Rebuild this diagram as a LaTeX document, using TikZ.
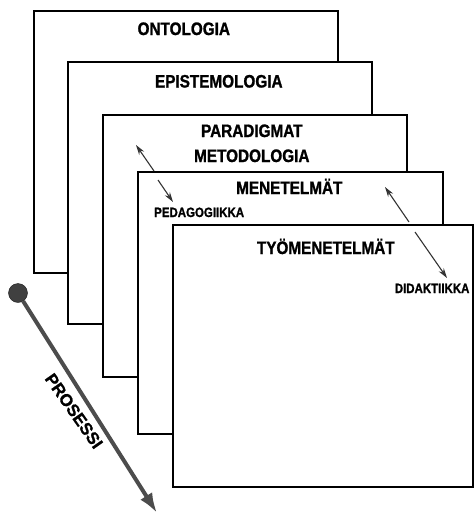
\documentclass[tikz,border=0pt]{standalone}
\usepackage{fontspec}
\setmainfont{Liberation Sans}[FakeStretch=0.85, BoldFeatures={FakeBold=1.2}]
\newfontfamily\procfont{Liberation Sans}[BoldFeatures={FakeBold=1}]
\usepackage{tikz}
\usetikzlibrary{arrows.meta, calc, positioning}

\begin{document}
\begin{tikzpicture}[x=1pt, y=-1pt,
  layer/.style={draw, fill=white, line width=1.6pt, minimum height=262pt,
    anchor=north west, inner sep=0pt},
  title/.style={font=\fontsize{18}{20}\selectfont\bfseries, inner sep=0pt, anchor=base},
  tag/.style={font=\fontsize{13.5}{15}\selectfont\bfseries, inner sep=0pt},
  link/.style={line width=1.1pt, black!80, -{Stealth[length=10pt,width=6pt]}}]
\useasboundingbox (0,0) rectangle (474,515);
\foreach \i/\x/\y/\w in {1/33/10/304, 2/67/61/304, 3/102/114/304, 4/137/171/305, 5/172/224/300}
  \node[layer, minimum width=\w pt] (lay\i) at (\x,\y) {};

\node[title] (onto) at ($(lay1.north)+(-2,25)$) {ONTOLOGIA};
\node[title] (epis) at ($(lay2.north)+(-1,26.5)$) {EPISTEMOLOGIA};
\node[title] (para) at ($(lay3.north)+(-3,23)$) {PARADIGMAT};
\node[title] (meto) at ($(lay3.north)+(-3,48)$) {METODOLOGIA};
\node[title] (mene) at ($(lay4.north)+(-1,23)$) {MENETELMÄT};
\node[title] (tyo) at ($(lay5.north)+(3,30)$) {TYÖMENETELMÄT};
\node[tag, anchor=base west] (peda) at ($(lay4.north west)+(17,46)$) {PEDAGOGIIKKA};
\node[tag, anchor=base east] (dida) at ($(lay5.north east)+(-4,69)$) {DIDAKTIIKKA};

\coordinate (pa) at (136,145);
\coordinate (pb) at (154,171);
\coordinate (pc) at (158,180);
\coordinate (pd) at (173,202);
\draw[link] (pb) -- (pa);
\draw[link] (pc) -- (pd);
\coordinate (da) at (385,187);
\coordinate (db) at (409,222);
\coordinate (dc) at (415,232);
\coordinate (dd) at (447,278);
\draw[link] (db) -- (da);
\draw[link] (dc) -- (dd);

\node[circle, fill=black!75, draw=black!90, minimum size=19pt, inner sep=0pt] (start) at (18,293) {};
\coordinate (stop) at (157,513);
\draw[line width=4pt, black!70, -{Latex[length=20pt,width=14pt]}] (start) -- (stop);
\node[font=\procfont\fontsize{17}{19}\selectfont\bfseries, rotate=-55, inner sep=0pt] (proc) at (74,411) {PROSESSI};
\end{tikzpicture}
\end{document}
